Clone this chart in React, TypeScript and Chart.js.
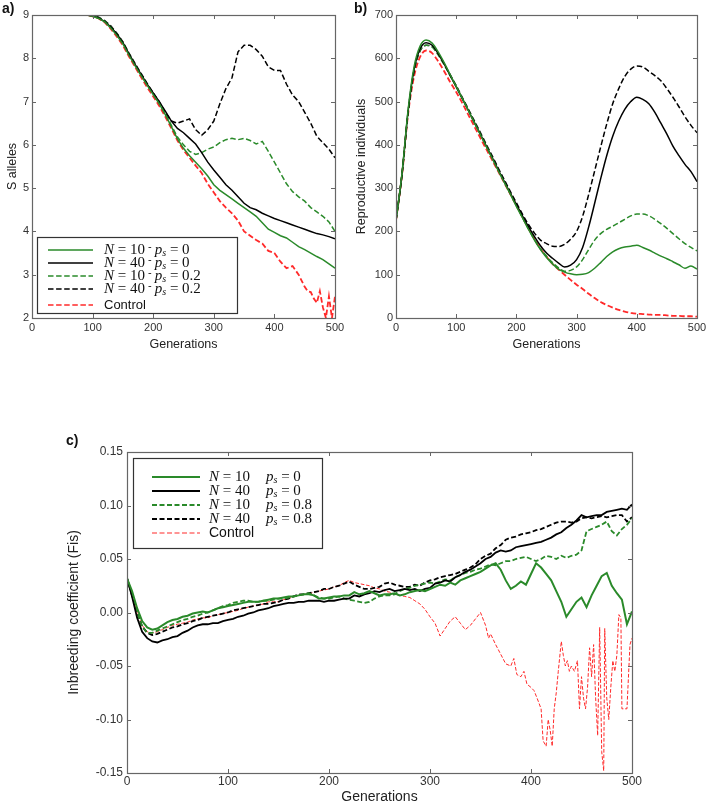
import React, { useEffect, useRef } from 'react';
import { Chart, registerables } from 'chart.js';
Chart.register(...registerables);

// ---------- DATA ----------
const GEN10 = [0, 10, 20, 30, 40, 50, 60, 70, 80, 90, 100, 110, 120, 130, 140, 150, 160, 170, 180, 190,
  200, 210, 220, 230, 240, 250, 260, 270, 280, 290, 300, 310, 320, 330, 340, 350, 360, 370, 380, 390,
  400, 410, 420, 430, 440, 450, 460, 470, 480, 490, 500];

// Panel a: S alleles
const A_GREEN = [9, 9, 9, 9, 9, 9, 9, 9, 9, 9, 8.97, 8.92, 8.84, 8.7, 8.53, 8.33, 8.07, 7.83, 7.6, 7.38,
  7.16, 6.95, 6.7, 6.42, 6.14, 5.92, 5.75, 5.6, 5.45, 5.28, 5.08, 4.95, 4.85, 4.75, 4.65, 4.55, 4.45, 4.35, 4.2, 4.05,
  3.98, 3.9, 3.85, 3.75, 3.65, 3.58, 3.5, 3.42, 3.35, 3.25, 3.15];
const A_BLACK = [9, 9, 9, 9, 9, 9, 9, 9, 9, 9, 8.98, 8.93, 8.85, 8.72, 8.56, 8.36, 8.1, 7.86, 7.63, 7.4,
  7.2, 7.0, 6.78, 6.55, 6.38, 6.28, 6.15, 6.02, 5.82, 5.6, 5.42, 5.25, 5.08, 4.95, 4.8, 4.65, 4.55, 4.5, 4.42, 4.36,
  4.3, 4.25, 4.2, 4.15, 4.1, 4.05, 4.0, 3.95, 3.92, 3.88, 3.83];
const A_GREEN_D = [9, 9, 9, 9, 9, 9, 9, 9, 9, 9, 8.98, 8.94, 8.86, 8.73, 8.57, 8.37, 8.1, 7.86, 7.62, 7.38,
  7.18, 6.97, 6.72, 6.45, 6.18, 6.0, 5.85, 5.78, 5.82, 5.9, 5.95, 6.05, 6.12, 6.15, 6.12, 6.15, 6.1, 6.02, 6.08, 5.85,
  5.6, 5.35, 5.1, 4.92, 4.8, 4.7, 4.55, 4.45, 4.35, 4.22, 4.0];
const A_BLACK_D = [9, 9, 9, 9, 9, 9, 9, 9, 9, 9, 8.99, 8.95, 8.87, 8.75, 8.58, 8.38, 8.12, 7.88, 7.65, 7.42,
  7.2, 7.0, 6.75, 6.55, 6.5, 6.55, 6.6, 6.35, 6.22, 6.35, 6.55, 6.95, 7.3, 7.55, 8.15, 8.3, 8.3, 8.2, 8.05, 7.8,
  7.72, 7.72, 7.4, 7.15, 7.0, 6.75, 6.5, 6.2, 6.05, 5.9, 5.7];
const A_RED_GEN = [0, 10, 20, 30, 40, 50, 60, 70, 80, 90, 100, 110, 120, 130, 140, 150, 160, 170, 180, 190,
  200, 210, 220, 230, 240, 250, 260, 270, 280, 290, 300, 310, 320, 330, 340, 350, 360, 370, 380, 390,
  400, 410, 420, 430, 440, 450, 455, 460, 465, 470, 475, 480, 485, 490, 495, 500];
const A_RED = [9, 9, 9, 9, 9, 9, 9, 9, 9, 9, 8.97, 8.92, 8.83, 8.68, 8.5, 8.3, 8.04, 7.8, 7.56, 7.33,
  7.12, 6.9, 6.65, 6.38, 6.1, 5.88, 5.7, 5.52, 5.35, 5.1, 4.9, 4.7, 4.55, 4.42, 4.25, 4.0, 3.9, 3.8, 3.72, 3.55,
  3.5, 3.3, 3.15, 3.2, 3.0, 2.72, 2.62, 2.6, 2.45, 2.35, 2.62, 2.25, 2.0, 2.5, 2.0, 2.5];

// Panel b: reproductive individuals
const B_GREEN = [225, 335, 480, 580, 628, 642, 635, 615, 590, 562, 535, 508, 480, 452, 424, 396, 368, 340, 313, 286,
  258, 232, 205, 180, 158, 140, 125, 113, 106, 102, 100, 101, 105, 115, 128, 142, 153, 160, 164, 166,
  168, 163, 157, 150, 143, 137, 130, 123, 115, 120, 113];
const B_BLACK = [225, 333, 476, 574, 622, 636, 630, 611, 587, 560, 534, 507, 480, 452, 425, 397, 370, 342, 315, 288,
  262, 236, 211, 188, 167, 150, 138, 127, 118, 122, 135, 163, 210, 265, 322, 375, 420, 455, 482, 500,
  510, 505, 495, 475, 450, 425, 397, 375, 355, 338, 315];
const B_GREEN_D = [225, 332, 474, 572, 618, 630, 626, 608, 585, 560, 535, 508, 481, 453, 426, 398, 370, 342, 314, 287,
  259, 232, 206, 181, 160, 143, 128, 116, 108, 110, 118, 135, 158, 180, 195, 205, 212, 220, 228, 236,
  240, 240, 236, 228, 218, 207, 195, 183, 172, 163, 155];
const B_BLACK_D = [225, 332, 474, 570, 617, 630, 627, 610, 587, 562, 537, 510, 483, 456, 429, 401, 374, 346, 319, 292,
  266, 240, 216, 196, 180, 172, 166, 165, 170, 182, 200, 235, 285, 340, 395, 448, 495, 530, 558, 575,
  582, 580, 570, 560, 548, 530, 510, 488, 465, 445, 428];
const B_RED = [225, 330, 470, 558, 603, 618, 612, 593, 570, 545, 522, 497, 470, 443, 416, 390, 364, 338, 312, 286,
  260, 233, 207, 183, 160, 142, 125, 112, 100, 88, 77, 67, 56, 46, 37, 30, 24, 19, 15, 12,
  10, 9, 8, 7, 7, 6, 5, 5, 4, 4, 3];

// Panel c: inbreeding coefficient
const GEN5 = [0, 5, 10, 15, 20, 25, 30, 35, 40, 45, 50, 55, 60, 65, 70, 75, 80, 85, 90, 95,
  100, 105, 110, 115, 120, 125, 130, 135, 140, 145, 150, 155, 160, 165, 170, 175, 180, 185, 190, 195,
  200, 205, 210, 215, 220, 225, 230, 235, 240, 245, 250, 255, 260, 265, 270, 275, 280, 285, 290, 295,
  300, 305, 310, 315, 320, 325, 330, 335, 340, 345, 350, 355, 360, 365, 370, 375, 380, 385, 390, 395,
  400, 405, 410, 415, 420, 425, 430, 435, 440, 445, 450, 455, 460, 465, 470, 475, 480, 485, 490, 495, 500];
const C_GREEN = [0.032, 0.020, 0.004, -0.008, -0.014, -0.016, -0.015, -0.012, -0.009, -0.007,
  -0.006, -0.004, -0.003, -0.001, 0.000, 0.001, 0.000, 0.002, 0.004, 0.005,
  0.006, 0.007, 0.008, 0.009, 0.010, 0.010, 0.010, 0.011, 0.012, 0.013,
  0.013, 0.014, 0.015, 0.015, 0.016, 0.017, 0.017, 0.016, 0.013, 0.013,
  0.014, 0.015, 0.015, 0.016, 0.016, 0.019, 0.017, 0.018, 0.020, 0.018,
  0.016, 0.017, 0.017, 0.018, 0.016, 0.017, 0.019, 0.020, 0.021, 0.020,
  0.022, 0.024, 0.026, 0.025, 0.028, 0.026, 0.030, 0.032, 0.034, 0.036,
  0.038, 0.041, 0.044, 0.046, 0.040, 0.030, 0.022, 0.025, 0.029, 0.026,
  0.036, 0.046, 0.042, 0.036, 0.030, 0.020, 0.010, -0.004, 0.003, 0.010,
  0.014, 0.005, 0.016, 0.025, 0.034, 0.037, 0.025, 0.018, 0.012, -0.011, 0.001];
const C_BLACK = [0.032, 0.015, -0.005, -0.018, -0.024, -0.027, -0.028, -0.026, -0.025, -0.023,
  -0.022, -0.019, -0.017, -0.014, -0.012, -0.011, -0.011, -0.010, -0.010, -0.008,
  -0.007, -0.006, -0.004, -0.003, -0.001, 0.000, 0.002, 0.003, 0.004, 0.006,
  0.007, 0.008, 0.009, 0.009, 0.010, 0.010, 0.011, 0.011, 0.011, 0.010,
  0.011, 0.011, 0.012, 0.013, 0.013, 0.016, 0.015, 0.017, 0.018, 0.020,
  0.019, 0.021, 0.022, 0.020, 0.021, 0.022, 0.021, 0.022, 0.020, 0.022,
  0.023, 0.027, 0.028, 0.030, 0.029, 0.033, 0.035, 0.038, 0.040, 0.043,
  0.046, 0.050, 0.052, 0.056, 0.058, 0.057, 0.058, 0.061, 0.062, 0.063,
  0.064, 0.065, 0.066, 0.068, 0.070, 0.073, 0.075, 0.079, 0.082, 0.086,
  0.091, 0.089, 0.090, 0.091, 0.091, 0.094, 0.095, 0.096, 0.097, 0.096, 0.101];
const C_GREEN_D = [0.032, 0.017, 0.000, -0.013, -0.019, -0.019, -0.017, -0.015, -0.013, -0.011,
  -0.009, -0.007, -0.006, -0.004, -0.003, -0.001, 0.000, 0.002, 0.004, 0.006,
  0.007, 0.009, 0.010, 0.011, 0.011, 0.010, 0.010, 0.011, 0.011, 0.012,
  0.013, 0.013, 0.014, 0.015, 0.016, 0.017, 0.018, 0.016, 0.014, 0.013,
  0.013, 0.014, 0.015, 0.013, 0.012, 0.011, 0.010, 0.009, 0.010, 0.013,
  0.015, 0.016, 0.016, 0.017, 0.020, 0.022, 0.023, 0.025, 0.026, 0.027,
  0.028, 0.027, 0.029, 0.031, 0.030, 0.033, 0.035, 0.037, 0.038, 0.040,
  0.041, 0.043, 0.045, 0.044, 0.046, 0.048, 0.048, 0.050, 0.051, 0.052,
  0.050, 0.048, 0.050, 0.053, 0.052, 0.050, 0.053, 0.051, 0.053, 0.054,
  0.058, 0.076, 0.078, 0.080, 0.082, 0.085, 0.076, 0.072, 0.078, 0.082, 0.088];
const C_BLACK_D = [0.032, 0.016, 0.000, -0.013, -0.019, -0.021, -0.020, -0.018, -0.016, -0.014,
  -0.013, -0.011, -0.010, -0.008, -0.007, -0.005, -0.004, -0.003, -0.002, -0.001,
  0.000, 0.002, 0.003, 0.004, 0.005, 0.006, 0.007, 0.008, 0.008, 0.009,
  0.010, 0.012, 0.013, 0.015, 0.017, 0.017, 0.018, 0.019, 0.020, 0.022,
  0.022, 0.024, 0.025, 0.027, 0.029, 0.026, 0.024, 0.022, 0.022, 0.023,
  0.024, 0.027, 0.028, 0.026, 0.025, 0.024, 0.024, 0.026, 0.025, 0.028,
  0.030, 0.031, 0.033, 0.034, 0.035, 0.036, 0.038, 0.040, 0.042, 0.045,
  0.050, 0.053, 0.055, 0.060, 0.063, 0.068, 0.070, 0.071, 0.073, 0.074,
  0.075, 0.077, 0.078, 0.080, 0.082, 0.084, 0.085, 0.085, 0.084, 0.085,
  0.088, 0.089, 0.088, 0.089, 0.090, 0.089, 0.090, 0.091, 0.091, 0.085, 0.089];
const C_RED_GEN = [0, 5, 10, 15, 20, 25, 30, 35, 40, 45, 50, 55, 60, 65, 70, 75, 80, 85, 90, 95,
  100, 105, 110, 115, 120, 125, 130, 135, 140, 145, 150, 155, 160, 165, 170, 175, 180, 185, 190, 195,
  200, 205, 210, 215, 220, 225, 230, 235, 240, 245, 250, 255, 260, 265, 270, 275, 280, 285, 290, 295,
  300, 305, 310, 315, 320, 325, 330, 335, 340, 345, 350, 355, 358, 360, 365, 370, 375, 380, 383, 386,
  390, 393, 396, 400, 403, 406, 410, 412, 415, 417, 419, 421, 423, 425, 427, 430, 432, 434, 436, 438,
  440, 443, 446, 448, 450, 452, 454, 456, 458, 460, 462, 464, 466, 468, 470, 472, 473, 475, 477, 479,
  481, 483, 485, 487, 489, 490, 495, 498, 500];
const C_RED = [0.032, 0.016, 0.000, -0.012, -0.018, -0.019, -0.018, -0.016, -0.014, -0.012,
  -0.011, -0.010, -0.009, -0.007, -0.006, -0.005, -0.005, -0.003, -0.002, -0.001,
  0.000, 0.001, 0.002, 0.004, 0.005, 0.006, 0.007, 0.008, 0.010, 0.010,
  0.010, 0.012, 0.013, 0.015, 0.016, 0.017, 0.017, 0.019, 0.020, 0.021,
  0.022, 0.024, 0.025, 0.028, 0.030, 0.028, 0.027, 0.026, 0.025, 0.023,
  0.022, 0.020, 0.019, 0.017, 0.016, 0.015, 0.014, 0.011, 0.008, 0.003,
  -0.004, -0.010, -0.022, -0.015, -0.008, -0.004, -0.010, -0.016, -0.012, -0.006, 0.000, -0.012, -0.024, -0.020,
  -0.030, -0.039, -0.048, -0.050, -0.043, -0.058,
  -0.060, -0.055, -0.067, -0.070, -0.073, -0.080, -0.090, -0.120, -0.125, -0.100,
  -0.110, -0.125, -0.090, -0.075, -0.055, -0.027, -0.040, -0.050, -0.045, -0.055,
  -0.050, -0.055, -0.045, -0.090, -0.060, -0.080, -0.090, -0.070, -0.033, -0.060,
  -0.030, -0.080, -0.115, -0.014, -0.130, -0.148, -0.015, -0.080, -0.100, -0.070,
  -0.045, -0.055, -0.040, -0.002, -0.005, -0.090, -0.090, -0.030, -0.024];

// ---------- STYLES ----------
const GREEN = '#2a8a2a';
const BLACK = '#000000';
const RED = '#ff2a2a';
const SANS = '"Liberation Sans", Arial, sans-serif';
const SERIF = '"Liberation Serif", "Times New Roman", serif';

type Seg = { t: string; font: string; dy?: number; x?: number };
type Row = { color: string; width: number; dash: number[]; y: number; segs: Seg[] };
type LegendCfg = { box: [number, number, number, number]; sample: [number, number]; textX: number; rows: Row[] };

function legendPlugin(cfg: LegendCfg) {
  return {
    id: 'boxLegend',
    afterDraw(chart: any) {
      const { ctx, chartArea } = chart;
      const L = chartArea.left, T = chartArea.top;
      const [bx, by, bw, bh] = cfg.box;
      ctx.save();
      ctx.fillStyle = '#fff';
      ctx.fillRect(L + bx, T + by, bw, bh);
      ctx.strokeStyle = '#333';
      ctx.lineWidth = 1.2;
      ctx.setLineDash([]);
      ctx.strokeRect(Math.round(L + bx) + 0.5, Math.round(T + by) + 0.5, bw, bh);
      for (const r of cfg.rows) {
        const y = T + r.y;
        ctx.beginPath();
        ctx.setLineDash(r.dash);
        ctx.strokeStyle = r.color;
        ctx.lineWidth = r.width;
        ctx.moveTo(L + cfg.sample[0], y);
        ctx.lineTo(L + cfg.sample[1], y);
        ctx.stroke();
        ctx.setLineDash([]);
        let x = L + cfg.textX;
        ctx.fillStyle = '#111';
        ctx.textBaseline = 'middle';
        ctx.textAlign = 'left';
        for (const s of r.segs) {
          if (s.x !== undefined) x = L + s.x;
          ctx.font = s.font;
          ctx.fillText(s.t, x, y + (s.dy || 0));
          x += ctx.measureText(s.t).width;
        }
      }
      ctx.restore();
    },
  };
}

const framePlugin = {
  id: 'frame',
  afterDatasetsDraw(chart: any) {
    const { ctx, chartArea, scales } = chart;
    const { left, right, top, bottom } = chartArea;
    const x = scales.x, y = scales.y;
    ctx.save();
    ctx.strokeStyle = '#666';
    ctx.lineWidth = 1;
    ctx.setLineDash([]);
    ctx.beginPath();
    for (const t of x.ticks) {
      const px = Math.round(x.getPixelForValue(t.value)) + 0.5;
      ctx.moveTo(px, bottom); ctx.lineTo(px, bottom - 4);
      ctx.moveTo(px, top); ctx.lineTo(px, top + 4);
    }
    for (const t of y.ticks) {
      const py = Math.round(y.getPixelForValue(t.value)) + 0.5;
      ctx.moveTo(left, py); ctx.lineTo(left + 4, py);
      ctx.moveTo(right, py); ctx.lineTo(right - 4, py);
    }
    ctx.stroke();
    ctx.lineWidth = 1.2;
    ctx.strokeRect(Math.round(left) + 0.5, Math.round(top) + 0.5, Math.round(right - left), Math.round(bottom - top));
    ctx.restore();
  },
};

function ds(xs: number[], ys: number[], color: string, width: number, dash: number[], smooth = false) {
  return {
    data: xs.map((x, i) => ({ x, y: ys[i] })),
    borderColor: color,
    borderWidth: width,
    borderDash: dash,
    pointRadius: 0,
    fill: false,
    tension: 0,
    cubicInterpolationMode: smooth ? 'monotone' : 'default',
  };
}

type Spec = {
  left: number; top: number; w: number; h: number;
  padTop: number; padRight: number; yWidth: number; xHeight: number;
  yMin: number; yMax: number; yStep: number; yFmt: (v: number) => string;
  yTitle: string; yTitlePad: number; xTitlePad: number;
  tickSize: number; titleSize: number; tickPadX: number; tickPadY: number;
  datasets: any[]; legend: LegendCfg;
};

function Panel({ spec }: { spec: Spec }) {
  const ref = useRef<HTMLCanvasElement>(null);
  useEffect(() => {
    const tickFont = { family: SANS, size: spec.tickSize };
    const titleFont = { family: SANS, size: spec.titleSize };
    const chart = new Chart(ref.current as HTMLCanvasElement, {
      type: 'line',
      data: { datasets: spec.datasets },
      options: {
        responsive: false,
        animation: false,
        devicePixelRatio: 1,
        events: [],
        layout: { padding: { left: 0, top: spec.padTop, right: spec.padRight, bottom: 0 } },
        plugins: { legend: { display: false }, tooltip: { enabled: false } },
        scales: {
          x: {
            type: 'linear', min: 0, max: 500,
            ticks: { stepSize: 100, padding: spec.tickPadX, font: tickFont, color: '#333', maxRotation: 0, autoSkip: false },
            grid: { display: false, drawTicks: false },
            border: { display: false },
            title: { display: true, text: 'Generations', font: titleFont, color: '#222', padding: { top: 0, bottom: spec.xTitlePad } },
            afterFit: (s: any) => { s.height = spec.xHeight; s.paddingLeft = 0; s.paddingRight = 0; },
          },
          y: {
            type: 'linear', min: spec.yMin, max: spec.yMax,
            ticks: { stepSize: spec.yStep, padding: spec.tickPadY, font: tickFont, color: '#333', callback: (v: any) => spec.yFmt(Number(v)) },
            grid: { display: false, drawTicks: false },
            border: { display: false },
            title: { display: true, text: spec.yTitle, font: titleFont, color: '#222', padding: { top: spec.yTitlePad, bottom: 0 } },
            afterFit: (s: any) => { s.width = spec.yWidth; s.paddingTop = 0; s.paddingBottom = 0; },
          },
        },
      } as any,
      plugins: [framePlugin, legendPlugin(spec.legend)],
    });
    return () => chart.destroy();
  }, []);
  return (
    <canvas
      ref={ref}
      width={spec.w}
      height={spec.h}
      style={{ position: 'absolute', left: spec.left, top: spec.top, width: spec.w, height: spec.h }}
    />
  );
}

// legend helpers
function mathA(n: string, ps: string): Seg[] {
  return [
    { t: 'N', font: `italic 15px ${SERIF}` },
    { t: ' = ' + n, font: `15px ${SERIF}` },
    { t: ' - ', font: `11px ${SANS}`, dy: -3 },
    { t: 'p', font: `italic 15px ${SERIF}` },
    { t: 's', font: `italic 10px ${SERIF}`, dy: 3 },
    { t: ' = ' + ps, font: `15px ${SERIF}` },
  ];
}
function mathC(n: string, ps: string): Seg[] {
  return [
    { t: 'N', font: `italic 15px ${SERIF}` },
    { t: ' = ' + n, font: `15px ${SERIF}` },
    { t: 'p', font: `italic 15px ${SERIF}`, x: 139 },
    { t: 's', font: `italic 10px ${SERIF}`, dy: 3 },
    { t: ' = ' + ps, font: `15px ${SERIF}` },
  ];
}

const DASH_AB = [5.5, 2.6];
const DASH_C = [5, 2.5];
const DASH_RED_C = [3.7, 1.8];

const specA: Spec = {
  left: 0, top: 0, w: 345, h: 355,
  padTop: 15, padRight: 10, yWidth: 32, xHeight: 37,
  yMin: 2, yMax: 9, yStep: 1, yFmt: (v) => String(Math.round(v)),
  yTitle: 'S alleles', yTitlePad: 5.5, xTitlePad: 2.5,
  tickSize: 11, titleSize: 12.5, tickPadX: 3, tickPadY: 3,
  datasets: [
    ds(GEN10, A_GREEN, GREEN, 1.5, []),
    ds(GEN10, A_BLACK, BLACK, 1.5, []),
    ds(GEN10, A_GREEN_D, GREEN, 1.5, DASH_AB),
    ds(GEN10, A_BLACK_D, BLACK, 1.5, DASH_AB),
    ds(A_RED_GEN, A_RED, RED, 1.8, DASH_AB),
  ],
  legend: {
    box: [5, 222, 200, 76], sample: [16, 61], textX: 72,
    rows: [
      { color: GREEN, width: 1.5, dash: [], y: 235, segs: mathA('10', '0') },
      { color: BLACK, width: 1.5, dash: [], y: 248, segs: mathA('40', '0') },
      { color: GREEN, width: 1.5, dash: DASH_AB, y: 261, segs: mathA('10', '0.2') },
      { color: BLACK, width: 1.5, dash: DASH_AB, y: 274, segs: mathA('40', '0.2') },
      { color: RED, width: 1.5, dash: DASH_AB, y: 290, segs: [{ t: 'Control', font: `13px ${SANS}` }] },
    ],
  },
};

const specB: Spec = {
  left: 345, top: 0, w: 364, h: 355,
  padTop: 15, padRight: 12, yWidth: 51, xHeight: 37,
  yMin: 0, yMax: 700, yStep: 100, yFmt: (v) => String(Math.round(v)),
  yTitle: 'Reproductive individuals', yTitlePad: 9.5, xTitlePad: 2.5,
  tickSize: 11, titleSize: 12.5, tickPadX: 3, tickPadY: 3,
  datasets: [
    ds(GEN10, B_GREEN, GREEN, 1.5, [], true),
    ds(GEN10, B_BLACK, BLACK, 1.5, [], true),
    ds(GEN10, B_GREEN_D, GREEN, 1.5, DASH_AB, true),
    ds(GEN10, B_BLACK_D, BLACK, 1.5, DASH_AB, true),
    ds(GEN10, B_RED, RED, 1.8, DASH_AB, true),
  ],
  legend: { box: [0, 0, 0, 0], sample: [0, 0], textX: 0, rows: [] },
};

const specC: Spec = {
  left: 40, top: 430, w: 620, h: 376,
  padTop: 22, padRight: 28, yWidth: 87, xHeight: 33,
  yMin: -0.15, yMax: 0.15, yStep: 0.05,
  yFmt: (v) => (Math.abs(v) < 1e-9 ? '0.00' : v.toFixed(2)),
  yTitle: 'Inbreeding coefficient (Fis)', yTitlePad: 26, xTitlePad: 0.5,
  tickSize: 12, titleSize: 14, tickPadX: 1, tickPadY: 4,
  datasets: [
    ds(GEN5, C_GREEN, GREEN, 2, []),
    ds(GEN5, C_BLACK, BLACK, 1.8, []),
    ds(GEN5, C_GREEN_D, GREEN, 1.8, DASH_C),
    ds(GEN5, C_BLACK_D, BLACK, 1.8, DASH_C),
    ds(C_RED_GEN, C_RED, RED, 1, DASH_RED_C),
  ],
  legend: {
    box: [6, 6, 189, 90], sample: [25, 73], textX: 82,
    rows: [
      { color: GREEN, width: 1.8, dash: [], y: 25, segs: mathC('10', '0') },
      { color: BLACK, width: 1.8, dash: [], y: 39, segs: mathC('40', '0') },
      { color: GREEN, width: 1.8, dash: DASH_C, y: 53, segs: mathC('10', '0.8') },
      { color: BLACK, width: 1.8, dash: DASH_C, y: 67, segs: mathC('40', '0.8') },
      { color: RED, width: 1.2, dash: DASH_C, y: 81, segs: [{ t: 'Control', font: `14px ${SANS}` }] },
    ],
  },
};

const labelStyle: React.CSSProperties = {
  position: 'absolute', fontFamily: SANS, fontWeight: 'bold', fontSize: 14, color: '#111', lineHeight: '16px',
};

export default function App() {
  return (
    <div style={{ position: 'absolute', left: 0, top: 0, width: 709, height: 806, background: '#fff', overflow: 'hidden' }}>
      <Panel spec={specA} />
      <Panel spec={specB} />
      <Panel spec={specC} />
      <div style={{ ...labelStyle, left: 2, top: 0 }}>a)</div>
      <div style={{ ...labelStyle, left: 354, top: 0 }}>b)</div>
      <div style={{ ...labelStyle, left: 66, top: 432 }}>c)</div>
    </div>
  );
}
